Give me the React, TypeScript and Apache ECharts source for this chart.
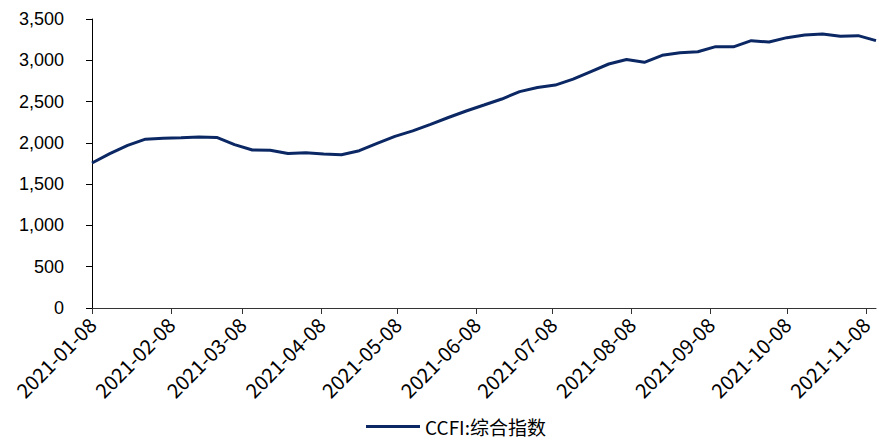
import React, { useEffect, useRef } from "react";
import * as echarts from "echarts";

// Weekly dates (Fridays) starting 2021-01-08
const startDate = [2021, 0, 8];
const ccfiValues = [
  1756, 1870, 1970, 2045, 2057, 2062, 2070, 2066, 1978, 1913,
  1910, 1870, 1880, 1864, 1857, 1905, 1993, 2078, 2145, 2224,
  2307, 2386, 2458, 2531, 2620, 2670, 2700, 2772, 2864, 2955,
  3009, 2975, 3060, 3092, 3104, 3165, 3163, 3238, 3221, 3274,
  3306, 3318, 3290, 3298, 3238,
];
const tickMonths = [0, 1, 2, 3, 4, 5, 6, 7, 8, 9, 10];
const tickDay = 8;
const seriesName = "CCFI:综合指数";
const yTicks = { min: 0, max: 3500, interval: 500 };

function pad(n: number) {
  return n < 10 ? "0" + n : "" + n;
}

export default function App() {
  const ref = useRef<HTMLDivElement>(null);
  useEffect(() => {
    if (!ref.current) return;
    const chart = echarts.init(ref.current, undefined, { renderer: "svg" });
    const dayMs = 86400000;
    const t0 = Date.UTC(startDate[0], startDate[1], startDate[2]);
    const dayOf = (y: number, m: number, d: number) => Math.round((Date.UTC(y, m, d) - t0) / dayMs);
    const data = ccfiValues.map((v, i) => [7 * i, v]);
    const ticks = tickMonths.map((m) => dayOf(2021, m, tickDay));
    chart.setOption({
      animation: false,
      grid: { left: 92, right: 3, top: 19, bottom: 136, containLabel: false },
      legend: {
        show: true,
        left: 361,
        top: 412,
        itemWidth: 54,
        itemHeight: 14,
        icon: "path://M0,5.5 L54,5.5 L54,8.5 L0,8.5 Z",
        itemGap: 10,
        textStyle: {
          fontFamily: "Noto Sans CJK SC",
          fontSize: 19,
          color: "#000",
        },
        data: [seriesName],
      },
      xAxis: {
        type: "value",
        min: 0,
        max: 7 * (ccfiValues.length - 1),
        axisLine: { show: true, onZero: false, lineStyle: { color: "#333", width: 1 } },
        axisTick: {
          show: true,
          length: 6,
          customValues: ticks,
          lineStyle: { color: "#333" },
        },
        splitLine: { show: false },
        axisLabel: {
          customValues: ticks,
          rotate: 45,
          margin: 13,
          fontFamily: "Noto Sans CJK SC",
          fontSize: 20,
          color: "#000",
          formatter: (val: number) => {
            const d = new Date(t0 + val * dayMs);
            return d.getUTCFullYear() + "-" + pad(d.getUTCMonth() + 1) + "-" + pad(d.getUTCDate());
          },
        },
      },
      yAxis: {
        type: "value",
        min: yTicks.min,
        max: yTicks.max,
        interval: yTicks.interval,
        axisLine: { show: true, lineStyle: { color: "#000", width: 1 } },
        axisTick: { show: true, length: 6, lineStyle: { color: "#000" } },
        splitLine: { show: false },
        axisLabel: {
          margin: 28,
          fontFamily: "Liberation Sans",
          fontSize: 18,
          color: "#000",
          formatter: (v: number) => v.toLocaleString("en-US"),
        },
      },
      series: [
        {
          name: seriesName,
          type: "line",
          data,
          showSymbol: false,
          symbol: "none",
          lineStyle: { color: "#0B2864", width: 3 },
          itemStyle: { color: "#0B2864" },
        },
      ],
    });
    return () => chart.dispose();
  }, []);
  return (
    <div
      ref={ref}
      style={{ position: "absolute", left: 0, top: 0, width: 879, height: 444, background: "#fff" }}
    />
  );
}
